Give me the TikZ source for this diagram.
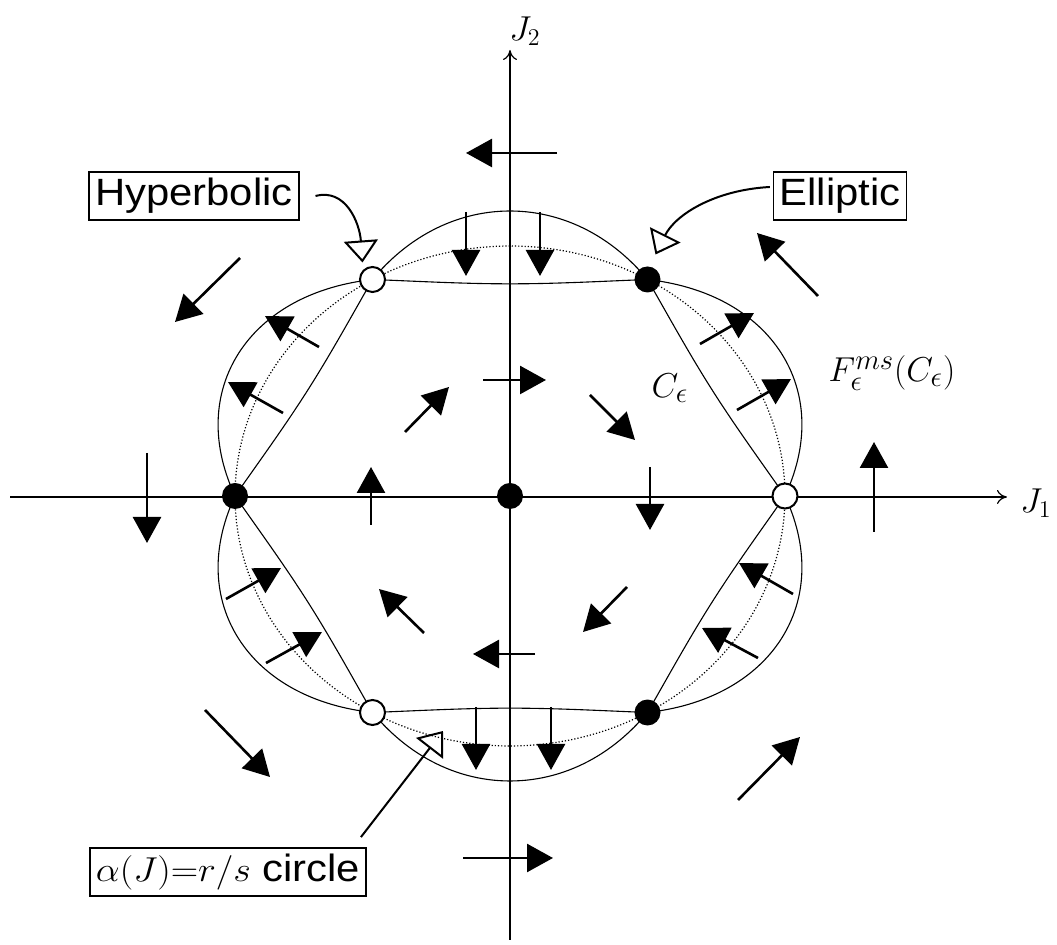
\documentclass[tikz,border=0pt]{standalone}
\usepackage{fontspec}
\setsansfont{Liberation Sans}[FakeStretch=1.1]
\usepackage{tikz}
\usetikzlibrary{arrows.meta}

\begin{document}
\begin{tikzpicture}[
    x=0.5pt, y=-0.5pt,
    % Base styles for lines, arrows and points
    axisline/.style={line width=0.6pt, -{To[length=5pt, width=7pt]}},
    field/.style={line width=1.3pt, -{Triangle[length=13pt, width=14pt]}},
    curve/.style={line width=0.55pt},
    rscircle/.style={line width=0.6pt, densely dotted},
    callout/.style={line width=1pt, -{Triangle[open, length=11pt, width=17pt, line width=1pt]}},
    elliptic/.style={circle, fill=black, minimum size=13pt, inner sep=0pt},
    hyperbolic/.style={circle, draw=black, fill=white, line width=1pt, minimum size=12.5pt, inner sep=0pt},
    % Text styles
    labelbox/.style={draw=black, line width=0.8pt, inner sep=3pt, font=\sffamily\fontsize{19}{22}\selectfont},
    mathlbl/.style={font=\fontsize{19}{22}\selectfont},
    axislbl/.style={font=\fontsize{17}{20}\selectfont}
]
\useasboundingbox (0,0) rectangle (1057,945);

% --- Axes ---
\coordinate (xmin) at (10,497);
\coordinate (xmax) at (1007,497);
\coordinate (ymin) at (510,940);
\coordinate (ymax) at (510,50);
\draw [axisline] (xmin) -- (xmax);
\draw [axisline] (ymin) -- (ymax);
\node [axislbl] (j1) at (1036,503) {$J_1$};
\node [axislbl] (j2) at (525,31) {$J_2$};

% --- Curves ---
% alpha(J)=r/s circle
\draw [rscircle] plot[variable=\t, domain=0:360, samples=181]
    ({510+275*cos(\t)}, {496-250*sin(\t)}) -- cycle;
% C_eps: chords between the fixed points, slightly sagging
\draw [curve] plot[variable=\t, domain=0:359, samples=360]
    ({510+275*0.866/cos(mod(\t,60)-30)*(1-0.02*abs(sin(3*\t)))*cos(\t)},
     {496-250*0.866/cos(mod(\t,60)-30)*(1-0.02*abs(sin(3*\t)))*sin(\t)}) -- cycle;
% F(C_eps)
\draw [curve] plot[variable=\t, domain=0:360, samples=361]
    ({510+275*(1+0.14*abs(sin(3*\t)))*cos(\t)}, {496-250*(1+0.14*abs(sin(3*\t)))*sin(\t)}) -- cycle;

% --- Flow arrows ---
% outer region
\foreach \xa/\ya/\xb/\yb in {557/153/466/153, 240/258/175/322, 818/296/757/233,
    147/453/147/543, 874/532/874/442, 205/710/270/777, 738/800/800/737, 463/858/553/858}
  \draw [field] (\xa,\ya) -- (\xb,\yb);
% inner region
\foreach \xa/\ya/\xb/\yb in {483/380/546/380, 405/432/449/387, 590/395/635/440,
    371/525/371/467, 650/467/650/530, 424/633/379/589, 535/654/473/654, 627/587/583/632}
  \draw [field] (\xa,\ya) -- (\xb,\yb);
% between C_eps and its image
\foreach \xa/\ya/\xb/\yb in {466/212/466/276, 540/212/540/276,
    319/347/265/316, 283/413/228/382, 700/344/754/313, 737/410/791/379,
    793/594/739/563, 758/658/702/628, 476/707/476/770, 551/707/551/770,
    226/599/281/568, 266/663/322/632}
  \draw [field] (\xa,\ya) -- (\xb,\yb);

% --- Fixed points ---
\foreach \a in {60,180,300}
  \node [elliptic] (e\a) at ({510+275*cos(\a)}, {496-250*sin(\a)}) {};
\node [elliptic] (e0) at (510,496) {};
\foreach \a in {0,120,240}
  \node [hyperbolic] (h\a) at ({510+275*cos(\a)}, {496-250*sin(\a)}) {};

% --- Labels ---
\node [mathlbl] (ceps) at (670,388) {$C_\epsilon$};
\node [mathlbl] (fceps) at (892,373) {$F^{ms}_\epsilon(C_\epsilon)$};
\node [labelbox] (hyp) at (194,196) {Hyperbolic};
\node [labelbox] (ell) at (840,196) {Elliptic};
\node [labelbox] (alpha) at (228,872) {\scalebox{1.1}[1]{$\alpha(J){=}r/s$} circle};
\coordinate (rs) at (443,731);

% --- Callouts ---
\draw [callout] ([xshift=8pt]hyp.east) .. controls +(30,-8) and +(-3,-40) .. ([shift={(-10,-17)}]h120.center);
\draw [callout] ([shift={(-3,-9)}]ell.west) .. controls +(-55,3) and +(20,-40) .. ([shift={(8,-25)}]e60.center);
\draw [callout] ([shift={(-6,-10)}]alpha.north east) -- (rs);

\end{tikzpicture}
\end{document}
